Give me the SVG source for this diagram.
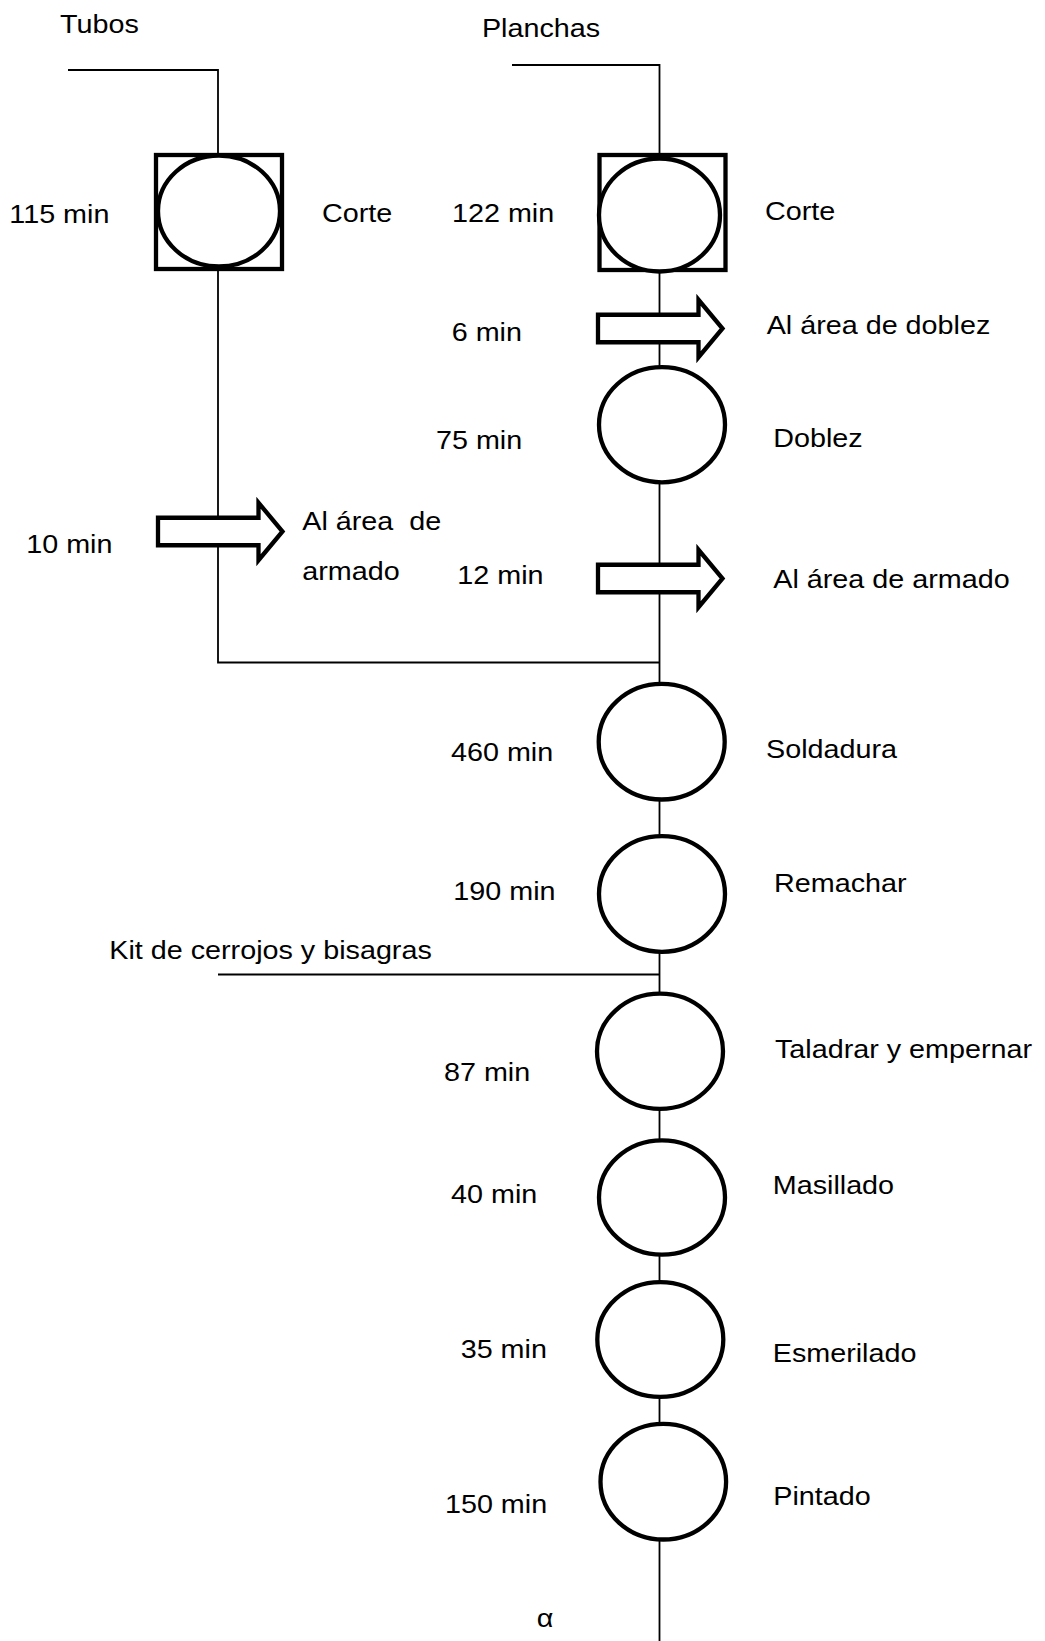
<svg xmlns="http://www.w3.org/2000/svg" width="1045" height="1641" viewBox="0 0 1045 1641">
  <style>
    .bg { fill: #ffffff; }
    .wire { fill: none; stroke: #000; stroke-width: 1.8; }
    .op { fill: #ffffff; stroke: #000; stroke-width: 4.3; }
    .box { fill: #ffffff; stroke: #000; stroke-width: 4.3; }
    .mv { fill: #ffffff; stroke: #000; stroke-width: 4.3; stroke-linejoin: miter; }
    /* labels are set slightly wide: x values are given in the scaled frame */
    .t { font-family: "Liberation Sans", Arial, sans-serif; font-size: 26.5px; fill: #000; transform: scaleX(1.085); }
  </style>
  <defs>
    <!-- transport arrow, origin at left end of the shaft, centred vertically -->
    <path id="arrow" class="mv" d="M0,-13.75 H100.5 V-28.75 L124.5,0 L100.5,28.75 V13.75 H0 Z"/>
  </defs>

  <rect class="bg" x="0" y="0" width="1045" height="1641"/>

  <!-- flow lines -->
  <g id="connectors">
    <polyline class="wire" points="68,70 218,70 218,155"/>
    <polyline class="wire" points="218,269 218,662.5 659.5,662.5"/>
    <polyline class="wire" points="512,65 659.5,65 659.5,1641"/>
    <line class="wire" x1="218" y1="974.5" x2="659.5" y2="974.5"/>
  </g>

  <!-- material inputs -->
  <g id="in-tubos"><text class="t" x="55.3" y="33.3">Tubos</text></g>
  <g id="in-planchas"><text class="t" x="444.2" y="37">Planchas</text></g>
  <g id="in-kit"><text class="t" x="100.7" y="959.3">Kit de cerrojos y bisagras</text></g>

  <!-- tube line -->
  <g id="tubos-corte">
    <rect class="box" x="156" y="155" width="126" height="114"/>
    <ellipse class="op" cx="219" cy="211" rx="61" ry="55.5"/>
    <text class="t" x="8.6" y="222.7">115 min</text>
    <text class="t" x="296.8" y="222">Corte</text>
  </g>
  <g id="tubos-transporte">
    <use href="#arrow" x="158" y="531.5"/>
    <text class="t" x="24.2" y="553.3">10 min</text>
    <text class="t" x="278.6" y="530" xml:space="preserve">Al área  de</text>
    <text class="t" x="278.6" y="580">armado</text>
  </g>

  <!-- sheet line -->
  <g id="planchas-corte">
    <rect class="box" x="599.5" y="155" width="126" height="115"/>
    <ellipse class="op" cx="659.5" cy="215" rx="60.5" ry="56.5"/>
    <text class="t" x="416.6" y="222.3">122 min</text>
    <text class="t" x="705.1" y="220">Corte</text>
  </g>
  <g id="planchas-transporte-doblez">
    <use href="#arrow" x="598" y="328.5"/>
    <text class="t" x="416.3" y="341">6 min</text>
    <text class="t" x="706.6" y="334.3">Al área de doblez</text>
  </g>
  <g id="doblez">
    <ellipse class="op" cx="662" cy="424.7" rx="63" ry="57.6"/>
    <text class="t" x="401.8" y="449.3">75 min</text>
    <text class="t" x="712.7" y="446.7">Doblez</text>
  </g>
  <g id="planchas-transporte-armado">
    <use href="#arrow" x="598" y="578.5"/>
    <text class="t" x="421.5" y="584">12 min</text>
    <text class="t" x="712.7" y="588.3">Al área de armado</text>
  </g>

  <!-- assembly -->
  <g id="soldadura">
    <ellipse class="op" cx="661.7" cy="741.7" rx="63" ry="57.8"/>
    <text class="t" x="415.7" y="760.7">460 min</text>
    <text class="t" x="706" y="758.3">Soldadura</text>
  </g>
  <g id="remachar">
    <ellipse class="op" cx="662" cy="894" rx="63" ry="57.8"/>
    <text class="t" x="417.8" y="900">190 min</text>
    <text class="t" x="713.4" y="892.3">Remachar</text>
  </g>
  <g id="taladrar">
    <ellipse class="op" cx="660" cy="1051.3" rx="63" ry="57.6"/>
    <text class="t" x="409.2" y="1080.7">87 min</text>
    <text class="t" x="714.3" y="1058.3">Taladrar y empernar</text>
  </g>
  <g id="masillado">
    <ellipse class="op" cx="662" cy="1197.5" rx="63" ry="57.2"/>
    <text class="t" x="415.7" y="1202.7">40 min</text>
    <text class="t" x="712.2" y="1194.3">Masillado</text>
  </g>
  <g id="esmerilado">
    <ellipse class="op" cx="660.3" cy="1339.5" rx="63" ry="57.4"/>
    <text class="t" x="424.6" y="1357.7">35 min</text>
    <text class="t" x="712.2" y="1361.7">Esmerilado</text>
  </g>
  <g id="pintado">
    <ellipse class="op" cx="663.3" cy="1481.7" rx="62.8" ry="57.8"/>
    <text class="t" x="410.1" y="1513.3">150 min</text>
    <text class="t" x="712.7" y="1505">Pintado</text>
  </g>

  <!-- continuation mark -->
  <g id="salida"><text class="t" x="494.7" y="1626.7">α</text></g>
</svg>
